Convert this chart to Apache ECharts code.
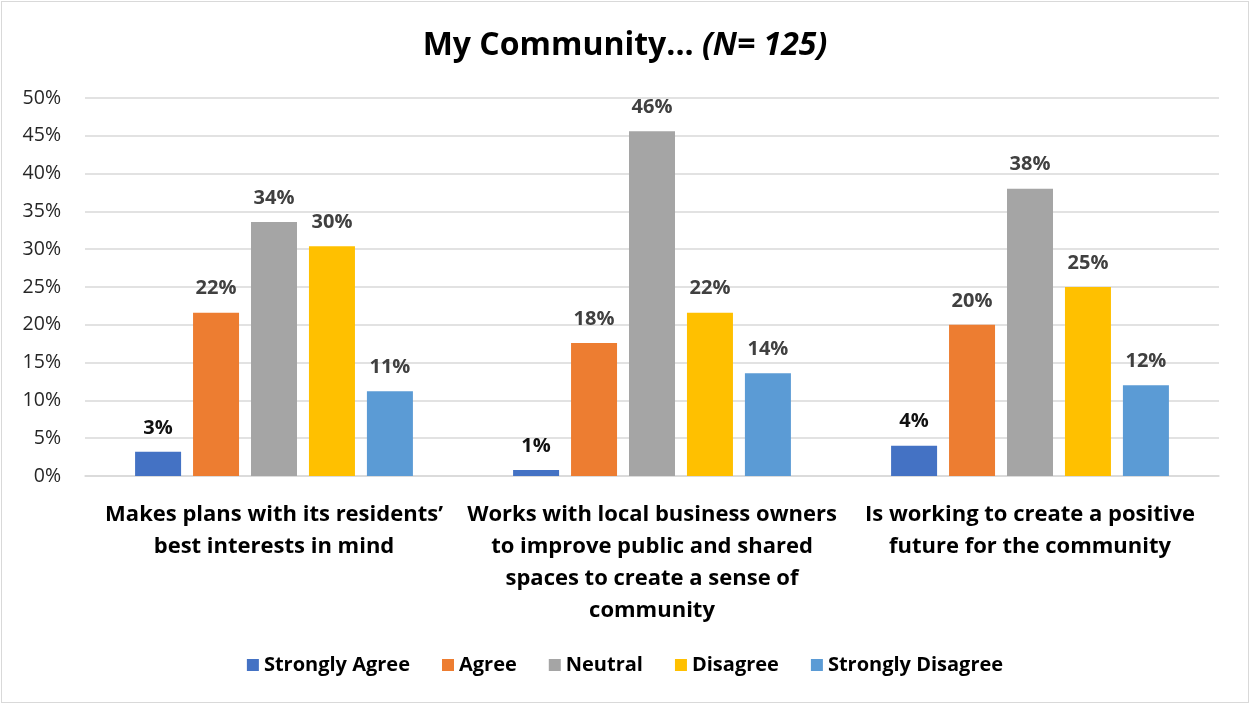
<!DOCTYPE html>
<html>
<head>
<meta charset="utf-8">
<script src="https://cdn.jsdelivr.net/npm/echarts@6/dist/echarts.min.js"></script>
<style>
html,body{margin:0;padding:0;background:#fff;}
#wrap{position:absolute;left:1px;top:1px;width:1246px;height:700px;border:1px solid #d9d9d9;}
#c{width:1246px;height:700px;}
</style>
</head>
<body>
<div id="wrap"><div id="c"></div></div>
<script>
const categories = [
  "Makes plans with its residents’\nbest interests in mind",
  "Works with local business owners\nto improve public and shared\nspaces to create a sense of\ncommunity",
  "Is working to create a positive\nfuture for the community"
];
const seriesNames = ["Strongly Agree", "Agree", "Neutral", "Disagree", "Strongly Disagree"];
const stronglyAgree = [3.2, 0.8, 4.0];
const agree = [21.6, 17.6, 20.0];
const neutral = [33.6, 45.6, 38.0];
const disagree = [30.4, 21.6, 25.0];
const stronglyDisagree = [11.2, 13.6, 12.0];
const yTicks = [0, 5, 10, 15, 20, 25, 30, 35, 40, 45, 50];

const colors = ["#4472c4", "#ed7d31", "#a5a5a5", "#ffc000", "#5b9bd5"];
const values = [stronglyAgree, agree, neutral, disagree, stronglyDisagree];
const FONT = "Open Sans";

const chart = echarts.init(document.getElementById('c'));
chart.setOption({
  animation: false,
  textStyle: { fontFamily: FONT },
  title: {
    text: "{a|My Community... }{b|(N= 125)}",
    left: 'center',
    top: 23,
    textStyle: {
      rich: {
        a: { fontFamily: FONT, fontSize: 32, fontWeight: 'bold', color: '#000' },
        b: { fontFamily: FONT, fontSize: 32, fontWeight: 'bold', fontStyle: 'italic', color: '#000' }
      }
    }
  },
  legend: {
    bottom: 22,
    left: 'center',
    itemWidth: 12,
    itemHeight: 12,
    itemGap: 32,
    icon: 'rect',
    textStyle: { fontFamily: FONT, fontSize: 20, fontWeight: 'bold', color: '#000', padding: [0, 0, 0, 0] },
    data: seriesNames
  },
  grid: { left: 83, right: 29, top: 96, bottom: 226, containLabel: false },
  xAxis: {
    type: 'category',
    data: categories,
    axisLine: { show: true, lineStyle: { color: '#d9d9d9', width: 1.5 } },
    axisTick: { show: false },
    axisLabel: {
      interval: 0,
      margin: 23,
      fontFamily: FONT,
      fontSize: 22,
      fontWeight: 'bold',
      color: '#000',
      lineHeight: 32
    }
  },
  yAxis: {
    type: 'value',
    min: 0,
    max: 50,
    interval: 5,
    axisLine: { show: false },
    axisTick: { show: false },
    splitLine: { lineStyle: { color: '#d9d9d9', width: 1.5 } },
    axisLabel: {
      margin: 24,
      fontFamily: FONT,
      fontSize: 19.5,
      color: '#262626',
      formatter: v => yTicks.includes(v) ? v + '%' : ''
    }
  },
  series: seriesNames.map((name, i) => ({
    name: name,
    type: 'bar',
    data: values[i],
    barGap: '26%',
    barCategoryGap: '26.5%',
    itemStyle: { color: colors[i] },
    label: {
      show: true,
      position: 'top',
      distance: 14,
      fontFamily: FONT,
      fontSize: 20,
      fontWeight: 'bold',
      color: i === 0 ? '#111' : '#404040',
      formatter: p => Math.round(p.value) + '%'
    }
  }))
});
</script>
</body>
</html>
